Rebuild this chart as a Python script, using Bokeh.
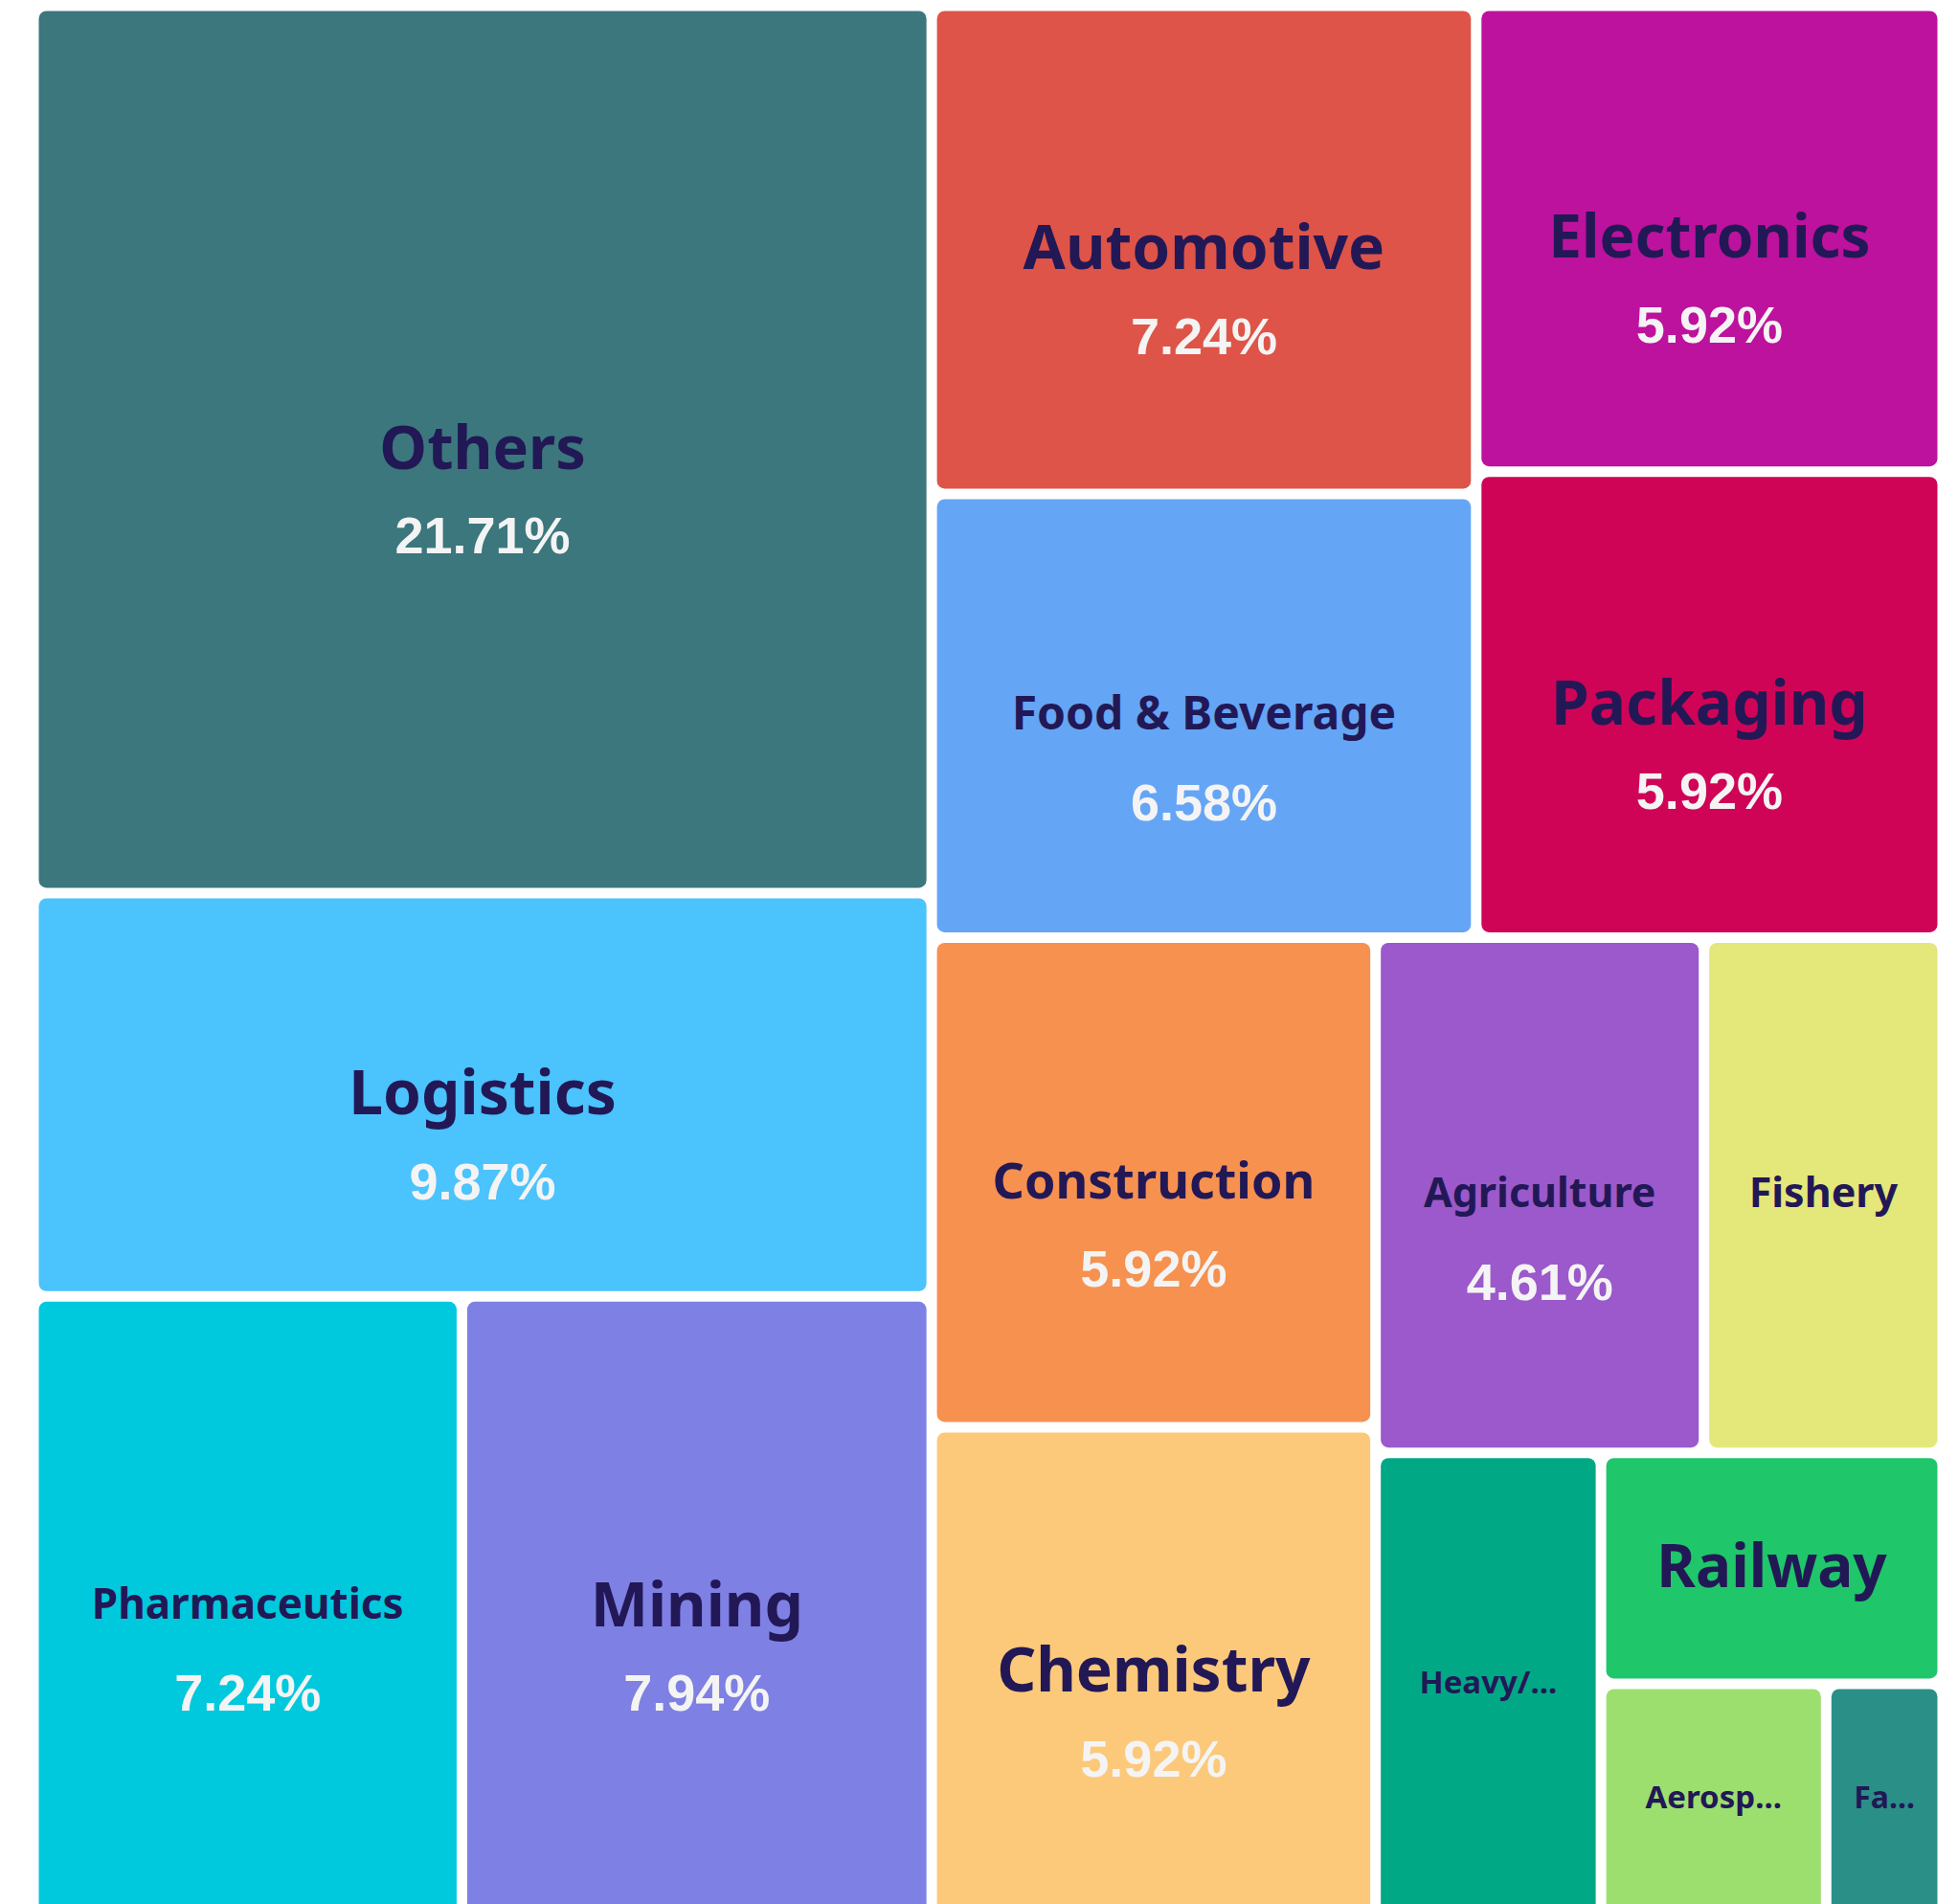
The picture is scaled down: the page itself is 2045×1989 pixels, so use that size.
from bokeh.plotting import figure
from bokeh.models import Range1d, ColumnDataSource
from bokeh.core.properties import value
from bokeh.embed import file_html
from bokeh.resources import INLINE

# ---------------- data ----------------
categories = ["Others", "Logistics", "Pharmaceutics", "Mining", "Automotive",
              "Food & Beverage", "Electronics", "Packaging", "Construction",
              "Chemistry", "Agriculture", "Fishery", "Heavy/...", "Railway",
              "Aerosp...", "Fa..."]
shares = [21.71, 9.87, 7.24, 7.94, 7.24, 6.58, 5.92, 5.92, 5.92, 5.92, 4.61,
          3.35, 2.85, 2.15, 1.43, 0.74]
show_share = [True, True, True, True, True, True, True, True, True, True, True,
              False, False, False, False, False]

# ---------------- style ----------------
colors = ["#3b777d", "#4bc3fc", "#00c9de", "#7e80e3", "#de5448", "#65a5f5",
          "#bd129d", "#cf0457", "#f69150", "#fcc97a", "#9b59cb", "#e4e77a",
          "#00a886", "#1fc66a", "#9ddf6f", "#2a8f86"]
name_sizes = [63, 64, 44, 64, 64, 48, 62, 64, 52, 64, 43, 43, 33, 62, 33, 32]
pct_size = 54
pct_offset = 94
name_shift = -4
half_gap = 5.5

# split structure of the treemap (binary partition by value sums)
tree = ("x", [
    ("y", [0, ("y", [1, ("x", [2, 3])])]),
    ("y", [
        ("x", [("y", [4, 5]), ("y", [6, 7])]),
        ("x", [("y", [8, 9]),
               ("y", [("x", [10, 11]),
                      ("x", [12, ("y", [13, ("x", [14, 15])])])])]),
    ]),
])

W, H = 2045, 1989
frame = (34.5, 5.5, 2028.5, 2002.0)   # x0, y0, x1, y1 (screen-like, y down)


def weight(node):
    if isinstance(node, int):
        return shares[node]
    return sum(weight(c) for c in node[1])


rects = {}


def layout(node, x0, y0, x1, y1):
    if isinstance(node, int):
        rects[node] = (x0, y0, x1, y1)
        return
    orient, children = node
    total = weight(node)
    pos = x0 if orient == "x" else y0
    span = (x1 - x0) if orient == "x" else (y1 - y0)
    for c in children:
        step = span * weight(c) / total
        if orient == "x":
            layout(c, pos, y0, pos + step, y1)
        else:
            layout(c, x0, pos, x1, pos + step)
        pos += step


layout(tree, *frame)

idx = list(range(len(categories)))
left = [rects[i][0] + half_gap for i in idx]
right = [rects[i][2] - half_gap for i in idx]
top = [rects[i][1] + half_gap for i in idx]
bottom = [rects[i][3] - half_gap for i in idx]
cx = [(l + r) / 2 for l, r in zip(left, right)]
cy = [(t + b) / 2 for t, b in zip(top, bottom)]

cells = ColumnDataSource(dict(left=left, right=right, top=top, bottom=bottom,
                              color=colors, name=categories))

p = figure(width=W, height=H, x_range=Range1d(0, W), y_range=Range1d(H, 0),
           output_backend="svg", toolbar_location=None, min_border=0)
p.axis.visible = False
p.grid.visible = False
p.outline_line_color = None
p.background_fill_color = "#ffffff"
p.border_fill_color = "#ffffff"

p.quad(left="left", right="right", top="top", bottom="bottom", source=cells,
       fill_color="color", line_color=None, border_radius=8)

names = ColumnDataSource(dict(
    x=cx, y=[c + name_shift for c in cy], text=categories,
    size=[f"{s}px" for s in name_sizes]))
p.text(x="x", y="y", text="text", source=names, text_font_size="size",
       text_font=value("Noto Sans"), text_font_style="bold",
       text_color="#221856", text_align="center", text_baseline="middle")

pct_x = [cx[i] for i in idx if show_share[i]]
pct_y = [cy[i] + name_shift + pct_offset for i in idx if show_share[i]]
pct_t = [f"{shares[i]:.2f}%" for i in idx if show_share[i]]
pcts = ColumnDataSource(dict(x=pct_x, y=pct_y, text=pct_t))
p.text(x="x", y="y", text="text", source=pcts,
       text_font_size=f"{pct_size}px", text_font=value("Liberation Sans"),
       text_font_style="bold", text_color="#f4f4f4", text_align="center",
       text_baseline="middle")

open("out.html", "w").write(file_html(p, INLINE))
